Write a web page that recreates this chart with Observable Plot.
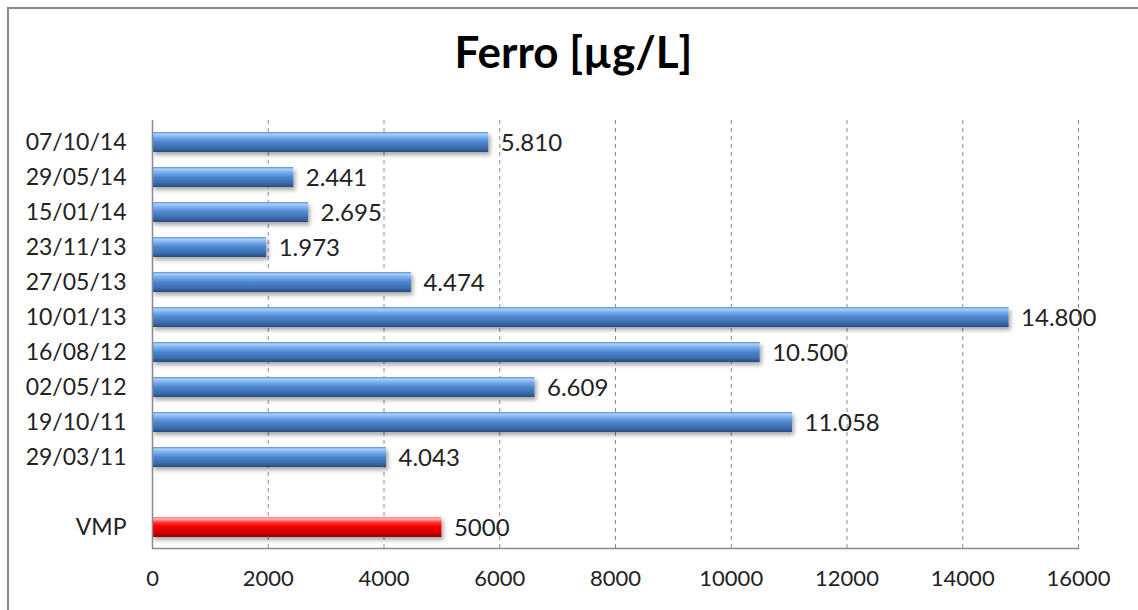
<!DOCTYPE html>
<html>
<head>
<meta charset="utf-8">
<script src="https://cdn.jsdelivr.net/npm/d3@7"></script>
<script src="https://cdn.jsdelivr.net/npm/@observablehq/plot@0.6"></script>
<style>
  html, body { margin: 0; padding: 0; background: #fff; overflow: hidden; }
  #chart {
    position: relative;
    width: 1138px;
    height: 610px;
    overflow: hidden;
    font-family: Lato, "Noto Sans", sans-serif;
  }
  #frame {
    position: absolute;
    left: 7px; top: 7px;
    width: 1300px; height: 800px;
    border-left: 2px solid #8a8a8a;
    border-top: 2px solid #8a8a8a;
  }
  #title {
    position: absolute;
    left: 9px; width: 1129px; top: 29px;
    text-align: center;
    font-weight: bold;
    font-size: 44px;
    line-height: 1;
    color: #000;
  }
  #chart svg { position: absolute; left: 0; top: 0; }
</style>
</head>
<body>
<div id="chart">
  <div id="frame"></div>
  <div id="title">Ferro [µg/L]</div>
</div>
<script>
// Sampling dates (top to bottom) and measured iron concentration in µg/L
const dates = ["07/10/14", "29/05/14", "15/01/14", "23/11/13", "27/05/13",
               "10/01/13", "16/08/12", "02/05/12", "19/10/11", "29/03/11"];
const ironValues = [5810, 2441, 2695, 1973, 4474, 14800, 10500, 6609, 11058, 4043];

// Maximum permitted value (VMP)
const limitLabel = "VMP";
const limitValue = 5000;

// Empty row separating the measurements from the limit
const spacer = " ";

// X axis ticks
const xTicks = [0, 2000, 4000, 6000, 8000, 10000, 12000, 14000, 16000];

const categories = [...dates, spacer, limitLabel];
const measurements = dates.map((d, i) => ({date: d, value: ironValues[i]}));
const limitRow = [{date: limitLabel, value: limitValue}];

// Italian style thousands separator for measurements
const itFormat = d3.formatLocale({decimal: ",", thousands: ".", grouping: [3], currency: ["€", ""]}).format(",d");

const font = "Lato, 'Noto Sans', sans-serif";

const svg = Plot.plot({
  width: 1138,
  height: 610,
  marginTop: 120,
  marginBottom: 62,
  marginLeft: 152,
  marginRight: 60,
  style: {fontFamily: font, fontSize: "22px", color: "#222", background: "transparent", overflow: "visible"},
  x: {domain: [0, 16000], ticks: xTicks, label: null},
  y: {domain: categories, paddingInner: 0.44, paddingOuter: 0.22, label: null},
  marks: [
    Plot.ruleX(xTicks.slice(1), {stroke: "#8a8a8a", strokeWidth: 1, strokeDasharray: "4,4"}),
    Plot.axisX({ticks: xTicks, tickSize: 0, tickPadding: 22, tickFormat: d => String(d), fontSize: 22, label: null}),
    Plot.axisY({tickSize: 0, tickPadding: 26, fontSize: 23, label: null}),
    Plot.barX(measurements, {x: "value", y: "date", fill: "url(#blueBar)", className: "bar3d"}),
    Plot.barX(limitRow, {x: "value", y: "date", fill: "url(#redBar)", className: "bar3d"}),
    Plot.text(measurements, {x: "value", y: "date", text: d => itFormat(d.value), textAnchor: "start", dx: 12, dy: 1, fontSize: 24, fill: "#222"}),
    Plot.text(limitRow, {x: "value", y: "date", text: d => String(d.value), textAnchor: "start", dx: 12, dy: 1, fontSize: 24, fill: "#222"}),
    Plot.ruleX([0], {stroke: "#8a8a8a", strokeWidth: 1.5}),
    Plot.frame({anchor: "bottom", stroke: "#8a8a8a", strokeWidth: 1.5})
  ]
});

// Gradients and shadow giving the bars a rounded, raised look
const defs = d3.select(svg).insert("defs", ":first-child");
function gradient(id, stops) {
  const g = defs.append("linearGradient").attr("id", id)
    .attr("x1", 0).attr("y1", 0).attr("x2", 0).attr("y2", 1);
  stops.forEach(([o, c]) => g.append("stop").attr("offset", o).attr("stop-color", c));
}
gradient("blueBar", [[0, "#5d8ed0"], [0.1, "#a9d0f8"], [0.28, "#74acec"], [0.5, "#4d86d0"], [0.8, "#3c6cad"], [1, "#284c7e"]]);
gradient("redBar", [[0, "#ff7a7a"], [0.1, "#ffb4b4"], [0.28, "#ff3030"], [0.5, "#f20000"], [0.8, "#d00000"], [1, "#8e0000"]]);
const shadow = defs.append("filter").attr("id", "barShadow")
  .attr("x", "-5%").attr("y", "-30%").attr("width", "115%").attr("height", "190%");
shadow.append("feDropShadow").attr("dx", 2).attr("dy", 3).attr("stdDeviation", 2)
  .attr("flood-color", "#000").attr("flood-opacity", 0.35);
d3.select(svg).selectAll(".bar3d").attr("filter", "url(#barShadow)");

document.getElementById("chart").appendChild(svg);
</script>
</body>
</html>
